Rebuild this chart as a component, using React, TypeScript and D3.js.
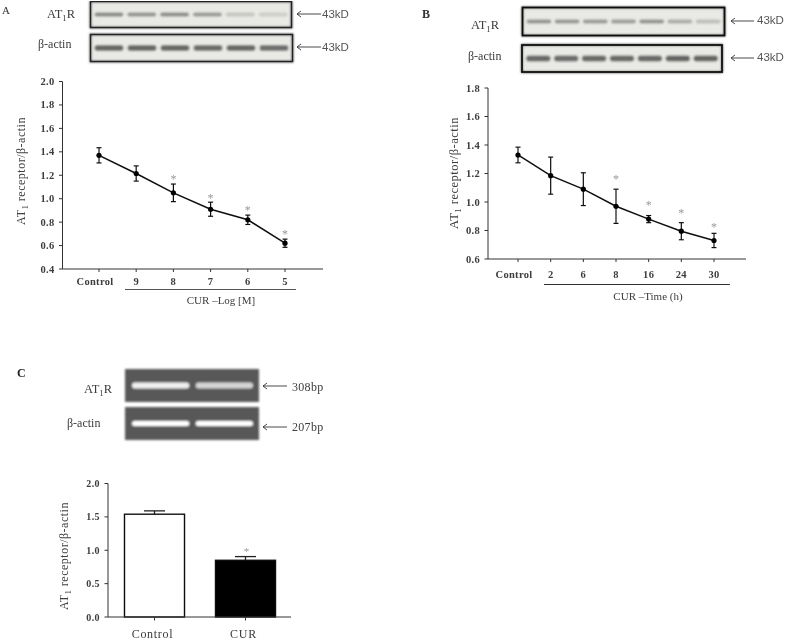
import React from "react";
import * as d3 from "d3";

const SERIF = "'Liberation Serif', serif";
const SANS = "'Liberation Sans', sans-serif";

// Panel A
const catsA = ["Control", "9", "8", "7", "6", "5"];
const valsA = [1.37, 1.215, 1.05, 0.91, 0.82, 0.62];
const errsA = [0.065, 0.065, 0.075, 0.06, 0.04, 0.035];
const starsA = [null, null, 1.177, 1.014, 0.912, 0.707];
const ticksA = [0.4, 0.6, 0.8, 1.0, 1.2, 1.4, 1.6, 1.8, 2.0];
const at1A = [0.62, 0.55, 0.6, 0.5, 0.16, 0.1];
const actinA = [0.85, 0.85, 0.85, 0.82, 0.85, 0.8];

// Panel B
const catsB = ["Control", "2", "6", "8", "16", "24", "30"];
const valsB = [1.33, 1.185, 1.09, 0.97, 0.88, 0.795, 0.73];
const errsB = [0.055, 0.13, 0.115, 0.12, 0.025, 0.06, 0.05];
const starsB = [null, null, null, 1.168, 0.986, 0.93, 0.832];
const ticksB = [0.6, 0.8, 1.0, 1.2, 1.4, 1.6, 1.8];
const at1B = [0.55, 0.52, 0.5, 0.48, 0.55, 0.36, 0.22];
const actinB = [0.85, 0.82, 0.85, 0.85, 0.85, 0.88, 0.88];

// Panel C
const catsC = ["Control", "CUR"];
const valsC = [1.54, 0.85];
const errsC = [0.05, 0.055];
const ticksC = [0, 0.5, 1.0, 1.5, 2.0];
const at1C = [0.9, 0.72];
const actinC = [1, 1];

const INK = "#3c3c3c";

function AT1({ x, y, size, suffix, anchor = "start", fill = INK, rotate }: any) {
  return (
    <text x={x} y={y} fontFamily={SERIF} fontSize={size} fill={fill} textAnchor={anchor}
      transform={rotate ? `rotate(-90 ${x} ${y})` : undefined} letterSpacing={rotate ? 0.5 : 0}>
      AT<tspan dy={size * 0.25} fontSize={size * 0.7}>1</tspan>
      <tspan dy={-size * 0.25}>{suffix}</tspan>
    </text>
  );
}

function Blot({ x, y, w, h, values, bandH, inset = 4 }: any) {
  const lane = d3.scaleBand<number>().domain(values.map((_: any, i: number) => i)).range([x + inset, x + w - inset]).paddingInner(0.12);
  const shade = d3.interpolateRgb("#dcdcd6", "#555");
  return (
    <g>
      <rect x={x} y={y} width={w} height={h} fill="#e9e9e5" stroke="#222" strokeWidth={1.6} />
      {values.map((v: number, i: number) => (
        <rect key={i} x={lane(i)} y={y + h / 2 - bandH / 2} width={lane.bandwidth()} height={bandH} rx={bandH / 2} fill={shade(v)} />
      ))}
    </g>
  );
}

function Gel({ x, y, w, h, values, bandH }: any) {
  const lane = d3.scaleBand<number>().domain(values.map((_: any, i: number) => i)).range([x + 7, x + w - 6]).paddingInner(0.1);
  const shade = d3.interpolateRgb("#666", "#fff");
  return (
    <g>
      <rect x={x} y={y} width={w} height={h} fill="#585858" />
      {values.map((v: number, i: number) => (
        <rect key={i} x={lane(i)} y={y + h / 2 - bandH / 2} width={lane.bandwidth()} height={bandH} rx={bandH / 2} fill={shade(v)} />
      ))}
    </g>
  );
}

function Arrow({ x1, x2, y }: any) {
  return (
    <g stroke="#333" fill="none" strokeWidth={0.9}>
      <line x1={x1} x2={x2} y1={y} y2={y} />
      <path d={`M${x1 + 4} ${y - 3}L${x1} ${y}L${x1 + 4} ${y + 3}`} />
    </g>
  );
}

function LineChart({ cats, vals, errs, stars, ticks, axisX, axisEnd, top, bottom, x0, x1, dom, labelY }: any) {
  const x = d3.scalePoint<string>().domain(cats).range([x0, x1]);
  const y = d3.scaleLinear().domain(dom).range([bottom, top]);
  const line = d3.line<number>().x((_, i) => x(cats[i])!).y((d) => y(d));
  return (
    <g>
      <path d={`M${axisX} ${top}V${bottom}H${axisEnd}`} fill="none" stroke="#333" strokeWidth={1} />
      {ticks.map((t: number) => (
        <g key={t}>
          <line x1={axisX - 3.5} x2={axisX} y1={y(t)} y2={y(t)} stroke="#333" strokeWidth={1} />
          <text x={axisX - 8} y={y(t) + 3.5} textAnchor="end" fontFamily={SERIF} fontWeight="bold" fontSize={10.5} fill={INK} letterSpacing={0.3}>{t.toFixed(1)}</text>
        </g>
      ))}
      {cats.map((c: string) => (
        <g key={c}>
          <line x1={x(c)} x2={x(c)} y1={bottom} y2={bottom + 3} stroke="#333" strokeWidth={1} />
          <text x={c === "Control" ? x(c)! - 4 : x(c)!} y={labelY} textAnchor="middle" fontFamily={SERIF} fontWeight="bold" fontSize={10.5} fill={INK} letterSpacing={0.3}>{c}</text>
        </g>
      ))}
      <path d={line(vals) ?? ""} fill="none" stroke="#111" strokeWidth={1.5} />
      {vals.map((v: number, i: number) => {
        const px = x(cats[i])!;
        const a = y(v + errs[i]);
        const b = y(v - errs[i]);
        return (
          <g key={i} stroke="#111" strokeWidth={1.2}>
            <line x1={px} x2={px} y1={a} y2={b} />
            <line x1={px - 2.5} x2={px + 2.5} y1={a} y2={a} />
            <line x1={px - 2.5} x2={px + 2.5} y1={b} y2={b} />
            <circle cx={px} cy={y(v)} r={2.6} fill="#000" stroke="none" />
          </g>
        );
      })}
      {stars.map((s: number | null, i: number) =>
        s == null ? null : (
          <text key={i} x={x(cats[i])} y={y(s) + 5} textAnchor="middle" fontFamily={SERIF} fontSize={12} fill="#999">*</text>
        )
      )}
    </g>
  );
}

function BarChart() {
  const axisX = 108, axisEnd = 291, top = 483.5, bottom = 617;
  const x = d3.scalePoint<string>().domain(catsC).range([154.5, 245.5]);
  const y = d3.scaleLinear().domain([0, 2]).range([bottom, top]);
  const bw = 60;
  return (
    <g>
      {valsC.map((v, i) => {
        const px = x(catsC[i])!;
        const t = y(v + errsC[i]);
        return (
          <g key={i}>
            <line x1={px} x2={px} y1={t} y2={y(v)} stroke="#222" strokeWidth={1.3} />
            <line x1={px - 10.5} x2={px + 10.5} y1={t} y2={t} stroke="#222" strokeWidth={1.3} />
            <rect x={px - bw / 2} y={y(v)} width={bw} height={bottom - y(v)} fill={i === 0 ? "#fff" : "#000"} stroke="#111" strokeWidth={1.4} />
          </g>
        );
      })}
      <path d={`M${axisX} ${top}V${bottom}H${axisEnd}`} fill="none" stroke="#333" strokeWidth={1} />
      {ticksC.map((t) => (
        <g key={t}>
          <line x1={axisX - 3.5} x2={axisX} y1={y(t)} y2={y(t)} stroke="#333" />
          <text x={axisX - 8} y={y(t) + 3.5} textAnchor="end" fontFamily={SERIF} fontWeight="bold" fontSize={10} fill={INK} letterSpacing={0.4}>{t.toFixed(1)}</text>
        </g>
      ))}
      {catsC.map((c) => (
        <g key={c}>
          <line x1={x(c)} x2={x(c)} y1={bottom} y2={bottom + 3.5} stroke="#333" />
          <text x={x(c)! - 2} y={638} textAnchor="middle" fontFamily={SERIF} fontSize={12} fill={INK} letterSpacing={0.7}>{c}</text>
        </g>
      ))}
      <text x={x("CUR")! + 1} y={y(1.0) + 5} textAnchor="middle" fontFamily={SERIF} fontSize={11} fill="#999">*</text>
    </g>
  );
}

export default function App() {
  return (
    <svg width={787} height={640} style={{ position: "absolute", left: 0, top: 0, background: "#fff" }}>
      <defs>
        <filter id="soft" x="0" y="0" width="100%" height="100%">
          <feGaussianBlur stdDeviation="0.45" />
        </filter>
        <filter id="softer" x="-5%" y="-20%" width="110%" height="140%">
          <feGaussianBlur stdDeviation="1" />
        </filter>
      </defs>
      <g filter="url(#soft)">
        {/* Panel A */}
        <text x={2} y={14} fontFamily={SERIF} fontSize={11} fill="#333">A</text>
        <g filter="url(#softer)">
          <Blot x={90.5} y={1.5} w={201} h={26} values={at1A} bandH={4} />
          <Blot x={90.5} y={34.5} w={202} h={27} values={actinA} bandH={6} />
        </g>
        <rect x={90.5} y={1.5} width={201} height={26} fill="none" stroke="#222" strokeWidth={1.4} />
        <rect x={90.5} y={34.5} width={202} height={27} fill="none" stroke="#222" strokeWidth={1.4} />
        <AT1 x={47} y={18} size={12.5} suffix="R" />
        <text x={38} y={48} fontFamily={SERIF} fontSize={12} fill={INK}>β-actin</text>
        <Arrow x1={297} x2={321} y={14} />
        <Arrow x1={297} x2={321} y={47} />
        <text x={322} y={18} fontFamily={SANS} fontSize={11.5} fill="#555">43kD</text>
        <text x={322} y={51} fontFamily={SANS} fontSize={11.5} fill="#555">43kD</text>
        <LineChart cats={catsA} vals={valsA} errs={errsA} stars={starsA} ticks={ticksA}
          axisX={62.5} axisEnd={323} top={81.5} bottom={269} x0={99} x1={285} dom={[0.4, 2.0]} labelY={285} />
        <AT1 x={25} y={225} size={12} suffix=" receptor/β-actin" rotate />
        <line x1={125} x2={296} y1={289.5} y2={289.5} stroke="#555" strokeWidth={1} />
        <text x={221} y={304} textAnchor="middle" fontFamily={SERIF} fontSize={11} fill={INK}>CUR –Log [M]</text>

        {/* Panel B */}
        <text x={422} y={18} fontFamily={SERIF} fontWeight="bold" fontSize={12} fill="#333">B</text>
        <g filter="url(#softer)">
          <Blot x={522.5} y={7.5} w={202} h={28} values={at1B} bandH={4} />
          <Blot x={522} y={45} w={200} h={27} values={actinB} bandH={6} />
        </g>
        <rect x={522.5} y={7.5} width={202} height={28} fill="none" stroke="#111" strokeWidth={1.8} />
        <rect x={522} y={45} width={200} height={27} fill="none" stroke="#111" strokeWidth={1.8} />
        <AT1 x={471} y={29} size={12.5} suffix="R" />
        <text x={468} y={60} fontFamily={SERIF} fontSize={12} fill={INK}>β-actin</text>
        <Arrow x1={731} x2={754} y={21} />
        <Arrow x1={731} x2={754} y={58} />
        <text x={757} y={24} fontFamily={SANS} fontSize={11.5} fill="#555">43kD</text>
        <text x={757} y={61} fontFamily={SANS} fontSize={11.5} fill="#555">43kD</text>
        <LineChart cats={catsB} vals={valsB} errs={errsB} stars={starsB} ticks={ticksB}
          axisX={488} axisEnd={746} top={88} bottom={259} x0={518} x1={714} dom={[0.6, 1.8]} labelY={278} />
        <AT1 x={458} y={229} size={12.5} suffix=" receptor/β-actin" rotate />
        <line x1={544} x2={730} y1={284.5} y2={284.5} stroke="#333" strokeWidth={1} />
        <text x={648} y={300} textAnchor="middle" fontFamily={SERIF} fontSize={11} fill={INK}>CUR –Time (h)</text>

        {/* Panel C */}
        <text x={17} y={377} fontFamily={SERIF} fontWeight="bold" fontSize={12} fill="#222">C</text>
        <g filter="url(#softer)">
          <Gel x={125} y={369} w={134} h={33} values={at1C} bandH={6} />
          <Gel x={125} y={407} w={134} h={33} values={actinC} bandH={5} />
        </g>
        <AT1 x={84} y={393} size={12.5} suffix="R" />
        <text x={67} y={427} fontFamily={SERIF} fontSize={12} fill={INK}>β-actin</text>
        <Arrow x1={263} x2={287} y={386} />
        <Arrow x1={263} x2={287} y={427} />
        <text x={292} y={391} fontFamily={SERIF} fontSize={12} fill={INK} letterSpacing={0.3}>308bp</text>
        <text x={292} y={431} fontFamily={SERIF} fontSize={12} fill={INK} letterSpacing={0.3}>207bp</text>
        <BarChart />
        <AT1 x={68} y={610} size={12} suffix=" receptor/β-actin" rotate />
      </g>
    </svg>
  );
}
